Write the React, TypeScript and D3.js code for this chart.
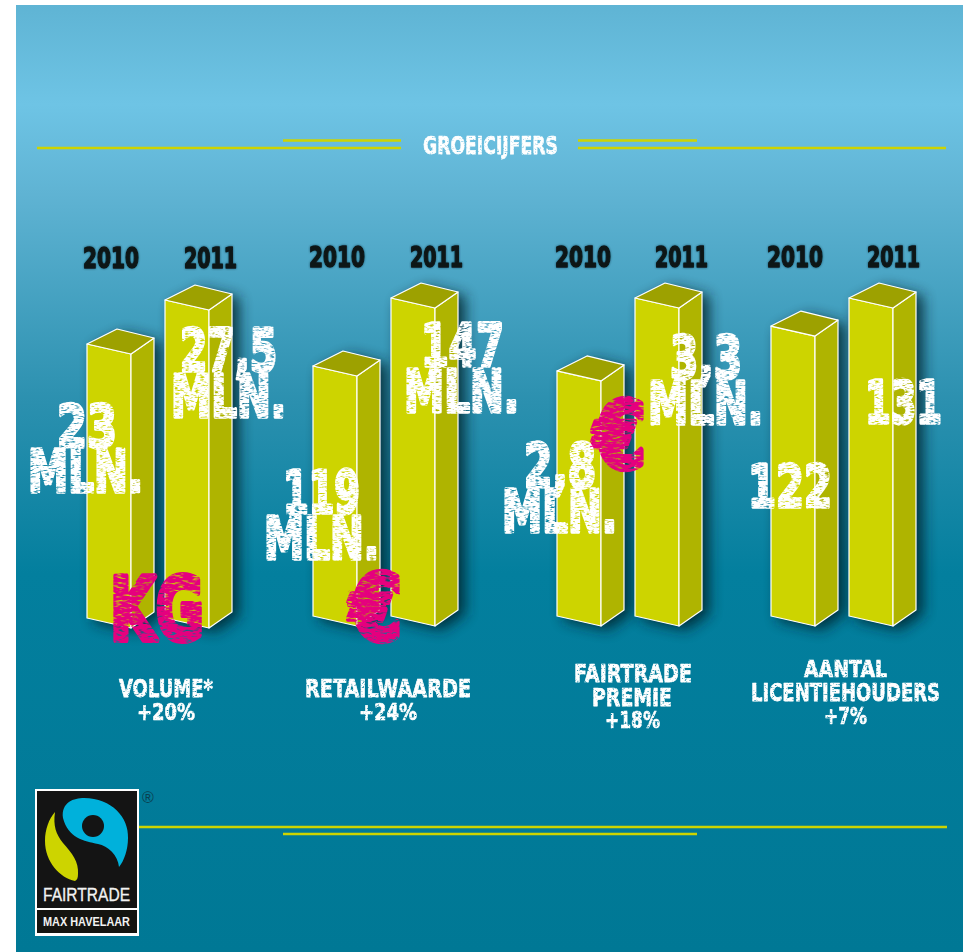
import React from "react";
import * as d3 from "d3";

const years = ["2010", "2011"];
const groups = ["volume", "retail", "premie", "licentie"];
const values2010 = [23, 119, 2.8, 122];
const values2011 = [27.5, 147, 3.3, 131];
// hidden per-group value axes [value at bar foot, value at tallest bar top]
const axisDomains: [number, number][] = [[-5, 27.5], [16, 147], [1.12, 3.3], [29, 131]];

const W = 971, H = 952;
const groupLeft = d3.scaleOrdinal<string, number>().domain(groups).range([87, 313, 557, 771]);
const groupBase = d3.scaleOrdinal<string, number>().domain(groups).range([618, 616, 616, 616]);
const barStep = 78, frontW = 44, skew = 10, sideDx = 23, sideDy = -16, backDx = 30, backDy = -15;
const barTall = 318;

const lime = "#cdd400";
const line = d3.line<[number, number]>().x(d => d[0]).y(d => d[1]);
const poly = (p: [number, number][]) => line(p) + "Z";

// [text, x0, x1, yTop, yBottom]
type T = [string, number, number, number, number];
const yearLabels: T[] = [
  ["2010", 83, 139, 246, 268], ["2011", 184, 237, 246, 268],
  ["2010", 309, 365, 245, 267], ["2011", 410, 463, 245, 267],
  ["2010", 555, 611, 245, 267], ["2011", 655, 708, 245, 267],
  ["2010", 767, 823, 245, 267], ["2011", 867, 920, 245, 267],
];
const valueLabels: T[] = [
  ["23", 57, 117, 404, 448], ["MLN.", 28, 143, 449, 493],
  ["27,5", 180, 277, 327, 372], ["MLN.", 171, 286, 374, 418],
  ["119", 283, 360, 469, 514], ["MLN.", 264, 379, 516, 560],
  ["147", 421, 504, 322, 367], ["MLN.", 404, 519, 369, 413],
  ["2,8", 524, 596, 442, 488], ["MLN.", 502, 617, 489, 533],
  ["3,3", 670, 742, 334, 379], ["MLN.", 648, 763, 381, 425],
  ["122", 748, 832, 464, 508], ["131", 865, 942, 379, 424],
];
const unitLabels: T[] = [
  ["KG", 110, 204, 575, 642], ["€", 350, 402, 573, 642], ["€", 594, 646, 400, 470],
];
const captionLabels: T[] = [
  ["VOLUME*", 119, 213, 678, 697], ["+20%", 137, 195, 702, 720],
  ["RETAILWAARDE", 305, 471, 678, 697], ["+24%", 359, 417, 702, 720],
  ["FAIRTRADE", 574, 692, 663, 682], ["PREMIE", 592, 672, 687, 706], ["+18%", 605, 660, 710, 728],
  ["AANTAL", 804, 887, 659, 677], ["LICENTIEHOUDERS", 751, 940, 682, 701], ["+7%", 824, 867, 706, 724],
];
const titleLabel: T = ["GROEICIJFERS", 423, 558, 135, 154];

const ruleSegments: [number, number, number][] = [
  [37, 401, 148], [283, 401, 140.5], [578, 946, 148], [578, 697, 140.5], [139, 947, 827], [283, 697, 834],
];

function Txt({ t, fill, filter, heavy = 0.05 }: { t: T; fill: string; filter?: string; heavy?: number }) {
  const [s, x0, x1, y0, y1] = t;
  const fs = (y1 - y0) / 0.76;
  return (
    <text x={x0} y={y1 - fs * heavy * 0.25} fontFamily="'DejaVu Sans', sans-serif" fontWeight={700} fontSize={fs} fill={fill} stroke={fill} strokeWidth={fs * heavy} strokeLinejoin="round"
      textLength={x1 - x0} lengthAdjust="spacingAndGlyphs" filter={filter}>{s}</text>
  );
}

export default function App() {
  const bars = groups.flatMap((g, gi) => {
    const y = d3.scaleLinear().domain(axisDomains[gi]).range([groupBase(g), groupBase(g) - barTall]);
    return [values2010[gi], values2011[gi]].map((v, i) => {
      const x = groupLeft(g) + i * barStep;
      const base = groupBase(g), top = y(v);
      const fl: [number, number] = [x, top], fr: [number, number] = [x + frontW, top + skew];
      const sr: [number, number] = [fr[0] + sideDx, fr[1] + sideDy], bk: [number, number] = [x + backDx, top + backDy];
      const bl: [number, number] = [x, base], br: [number, number] = [x + frontW, base + skew];
      const bs: [number, number] = [br[0] + sideDx, br[1] + sideDy];
      return { key: g + years[i], front: poly([fl, fr, br, bl]), side: poly([fr, sr, bs, br]), cap: poly([fl, bk, sr, fr]), outline: poly([fl, bk, sr, bs, br, bl]) };
    });
  });

  return (
    <svg width={W} height={H} viewBox={`0 0 ${W} ${H}`} style={{ position: "absolute", left: 0, top: 0, background: "#fff" }}>
      <defs>
        <linearGradient id="bg" x1="0" x2="0" y1="0" y2="1">
          <stop offset="0" stopColor="#5fb4d4" />
          <stop offset="0.105" stopColor="#6ec4e5" />
          <stop offset="0.2" stopColor="#5fb3d3" />
          <stop offset="0.42" stopColor="#2b90af" />
          <stop offset="0.6" stopColor="#037f9e" />
          <stop offset="1" stopColor="#007895" />
        </linearGradient>
        <filter id="shadow" x="-60%" y="-20%" width="240%" height="140%">
          <feGaussianBlur stdDeviation="7" />
        </filter>
        <filter id="soft" x="-10%" y="-10%" width="120%" height="130%">
          <feMorphology operator="dilate" radius="0.4" in="SourceAlpha" result="d" />
          <feGaussianBlur in="d" stdDeviation="1" result="b" />
          <feFlood floodColor="#062a36" floodOpacity="0.7" />
          <feComposite in2="b" operator="in" result="g" />
          <feMerge><feMergeNode in="g" /><feMergeNode in="SourceGraphic" /></feMerge>
        </filter>
        <filter id="sketch" x="-5%" y="-5%" width="110%" height="110%">
          <feTurbulence type="fractalNoise" baseFrequency="0.2 0.6" numOctaves="2" seed="4" result="n" />
          <feColorMatrix in="n" type="matrix" values="0 0 0 0 0  0 0 0 0 0  0 0 0 0 0  4 0 0 0 -0.9" result="mask" />
          <feComposite in="SourceGraphic" in2="mask" operator="in" result="tex" />
          <feTurbulence type="fractalNoise" baseFrequency="0.09" numOctaves="2" seed="9" result="w" />
          <feDisplacementMap in="tex" in2="w" scale="1.4" />
        </filter>
        <filter id="sketchSmall" x="-5%" y="-10%" width="110%" height="120%">
          <feTurbulence type="fractalNoise" baseFrequency="0.4 0.7" numOctaves="2" seed="2" result="n" />
          <feColorMatrix in="n" type="matrix" values="0 0 0 0 0  0 0 0 0 0  0 0 0 0 0  4 0 0 0 -0.65" result="mask" />
          <feComposite in="SourceGraphic" in2="mask" operator="in" />
        </filter>
        <filter id="sketchPink" x="-5%" y="-5%" width="110%" height="110%">
          <feTurbulence type="fractalNoise" baseFrequency="0.13 0.4" numOctaves="2" seed="7" result="n" />
          <feColorMatrix in="n" type="matrix" values="0 0 0 0 0  0 0 0 0 0  0 0 0 0 0  3.8 0 0 0 -0.8" result="mask" />
          <feComposite in="SourceGraphic" in2="mask" operator="in" result="tex" />
          <feTurbulence type="fractalNoise" baseFrequency="0.07" numOctaves="2" seed="3" result="w" />
          <feDisplacementMap in="tex" in2="w" scale="2" />
        </filter>
      </defs>

      <rect x={16} y={5} width={947} height={947} fill="url(#bg)" />

      {ruleSegments.map(([a, b, y], i) => (
        <line key={i} x1={a} x2={b} y1={y} y2={y} stroke={lime} strokeWidth={2.6} />
      ))}
      <Txt t={titleLabel} fill="#fff" filter="url(#sketchSmall)" heavy={0.03} />

      {yearLabels.map((t, i) => <Txt key={i} t={t} fill="#0c1519" filter="url(#soft)" heavy={0.05} />)}

      {bars.map(b => (
        <path key={b.key + "s"} d={b.outline} fill="#02222c" opacity={0.85} transform="translate(7,4)" filter="url(#shadow)" />
      ))}
      {bars.map(b => (
        <g key={b.key} stroke="#fff" strokeWidth={1.2} strokeLinejoin="round">
          <path d={b.front} fill={lime} />
          <path d={b.side} fill="#afb400" />
          <path d={b.cap} fill="#9da100" />
        </g>
      ))}

      {unitLabels.map((t, i) => <Txt key={i} t={t} fill="#e5007e" filter="url(#sketchPink)" heavy={0.07} />)}
      {valueLabels.map((t, i) => <Txt key={i} t={t} fill="#fff" filter="url(#sketch)" heavy={0.06} />)}
      {captionLabels.map((t, i) => <Txt key={i} t={t} fill="#fff" filter="url(#sketchSmall)" heavy={0.03} />)}

      {/* Fairtrade mark */}
      <g>
        <rect x={35} y={789} width={104} height={147} fill="#fff" />
        <rect x={37} y={791} width={100} height={117} fill="#141414" />
        <rect x={37} y={910} width={100} height={23} fill="#141410" />
        <path d="M63,818 C61,802 74,798 84,798 C112,798 129,818 128,838 C128,850 124,861 119,867 C118,855 108,846 98,844 C84,841 68,838 63,818Z" fill="#00b1db" />
        <circle cx={93} cy={826} r={11} fill="#141414" />
        <path d="M55,812 C53,826 56,834 63,843 C72,853 79,862 78,874 C78,878 77,880 75,881 C60,878 45,862 45,841 C45,829 49,819 55,812Z" fill={lime} />
        <text x={43} y={901} fontFamily="'Liberation Sans'" fontSize={18} stroke="#f2f2f2" strokeWidth={0.3} fill="#f2f2f2" textLength={87} lengthAdjust="spacingAndGlyphs">FAIRTRADE</text>
        <text x={43} y={926} fontFamily="'Liberation Sans'" fontWeight={700} fontSize={12} fill="#f2f2f2" textLength={87} lengthAdjust="spacingAndGlyphs">MAX HAVELAAR</text>
        <text x={148} y={803} textAnchor="middle" fontFamily="'Liberation Sans'" fontSize={16} fill="#0a3f4f">®</text>
      </g>
    </svg>
  );
}
